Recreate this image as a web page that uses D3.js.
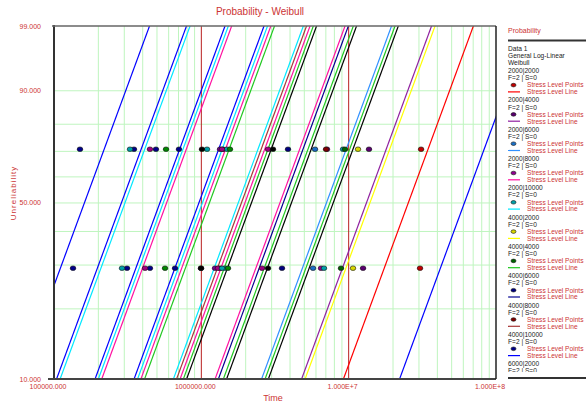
<!DOCTYPE html>
<html>
<head>
<meta charset="utf-8">
<script src="https://cdn.jsdelivr.net/npm/d3@7"></script>
<style>
body { margin: 0; background: #fff; }
svg { display: block; font-family: "Liberation Sans", Arial, sans-serif; }
</style>
</head>
<body>
<div id="chart"></div>
<script>
// stress level combos (S1|S2), two failures each
const stressLevels = ["2000|2000","2000|4000","2000|6000","2000|8000","2000|10000",
    "4000|2000","4000|4000","4000|6000","4000|8000","4000|10000",
    "6000|2000","6000|4000","6000|6000","6000|8000","6000|10000",
    "8000|2000","8000|4000","8000|6000","8000|8000","8000|10000",
    "10000|2000","10000|4000","10000|6000","10000|8000","10000|10000"]

// fitted eta of each stress level line (common beta)
const etaValues = [3.09e7, 1.607e7, 8.6e6, 4.157e6, 2.167e6,
    1.697e7, 9.08e6, 4.378e6, 2.278e6, 1.172e6,
    9.56e6, 4.733e6, 2.406e6, 1.238e6, 6.37e5,
    4.977e6, 2.533e6, 1.304e6, 6.71e5, 3.49e5,
    2.664e6, 1.381e6, 7.07e5, 3.69e5, 1.958e5]
const betaValue = 1.86
const extraEta = [7.43e7]

// failure times plotted at the two median ranks
const earlyTimes = [3.05e7, 1.252e7, 5.73e6, 6.49e6, 6.80e6,
    1.070e7, 8.87e6, 3.528e6, 1.339e6, 6.63e5,
    9.95e5, 1.238e6, 2.581e6, 1.447e6, 4.48e5,
    2.835e6, 1.517e6, 1.297e6, 1.381e6, 3.13e5,
    9.95e5, 5.67e5, 4.147e5, 2.894e5, 1.346e5]
const lateTimes = [3.10e7, 1.374e7, 5.91e6, 7.13e6, 9.16e6,
    1.157e7, 9.45e6, 3.875e6, 7.02e6, 7.05e5,
    1.403e6, 1.339e6, 2.835e6, 1.494e6, 4.92e5,
    3.065e6, 1.565e6, 1.381e6, 1.093e6, 3.49e5,
    1.010e6, 5.76e5, 4.48e5, 3.28e5, 1.501e5]
const rankValues = [29.17, 70.83]

const lineColors = ["#ff0000","#9020a0","#3090ff","#ff10a0","#00e8ff",
    "#ffff00","#20c820","#000090","#a83838","#0000ff",
    "#000000","#20c820","#ff10a0","#00e8ff","#0000ff",
    "#000000","#20c820","#ff10a0","#00e8ff","#0000ff",
    "#000000","#20c820","#ff10a0","#00e8ff","#0000ff"]
const pointColors = ["#c00000","#5a0070","#1a70c8","#900090","#00a0a8",
    "#d8d800","#006400","#000080","#800000","#00008b",
    "#000033","#700090","#a00080","#00a0a8","#00008b",
    "#000000","#008800","#a00080","#00a0a8","#00008b",
    "#000000","#008800","#a00080","#00a0a8","#00008b"]

const xTickValues = [1e5, 1e6, 1e7, 1e8]
const xTickLabels = ["100000.000", "1000000.000", "1.000E+7", "1.000E+8"]
const yTickValues = [10, 50, 90, 99]
const yTickLabels = ["10.000", "50.000", "90.000", "99.000"]
const yGridValues = [20, 30, 40, 50, 60, 70, 80, 90]

let plot = { left: 54, right: 496, top: 26, bottom: 379 }
let red = '#cc3333'

// weibull probability transform
let wb = (p) => Math.log(-Math.log(1 - p / 100))

let xScale = d3.scaleLog()
    .domain([1e5, 1e8])
    .range([plot.left, plot.right])
let yScale = d3.scaleLinear()
    .domain([wb(10), wb(99)])
    .range([plot.bottom, plot.top])

let svg = d3.select('#chart')
    .append('svg')
    .attr('width', 586)
    .attr('height', 404)

svg.append('clipPath')
    .attr('id', 'clip')
    .append('rect')
    .attr('x', plot.left)
    .attr('y', plot.top)
    .attr('width', plot.right - plot.left)
    .attr('height', plot.bottom - plot.top)

// grid
let minorX = xScale.ticks().filter(d => xTickValues.indexOf(d) < 0)
svg.append('g')
    .selectAll('line')
    .data(minorX)
    .enter()
    .append('line')
    .attr('x1', d => xScale(d)).attr('x2', d => xScale(d))
    .attr('y1', plot.top).attr('y2', plot.bottom)
    .attr('stroke', '#bff5bf')
    .attr('stroke-width', 1)

svg.append('g')
    .selectAll('line')
    .data(yGridValues)
    .enter()
    .append('line')
    .attr('x1', plot.left).attr('x2', plot.right)
    .attr('y1', d => yScale(wb(d))).attr('y2', d => yScale(wb(d)))
    .attr('stroke', '#bff5bf')
    .attr('stroke-width', 1)

svg.append('g')
    .selectAll('line')
    .data(xTickValues.slice(1, 3))
    .enter()
    .append('line')
    .attr('x1', d => xScale(d)).attr('x2', d => xScale(d))
    .attr('y1', plot.top).attr('y2', plot.bottom)
    .attr('stroke', '#b82020')
    .attr('stroke-width', 1)

// stress level lines
let lineData = etaValues.map((eta, i) => ({ eta: eta, color: lineColors[i] }))
    .concat(extraEta.map(eta => ({ eta: eta, color: '#0000ff' })))

let lineGen = d3.line()
    .x(d => xScale(d.t))
    .y(d => yScale(wb(d.p)))

svg.append('g')
    .attr('clip-path', 'url(#clip)')
    .selectAll('path')
    .data(lineData)
    .enter()
    .append('path')
    .attr('d', (d) => {
        let ends = [5, 99.9].map(p => ({ p: p, t: d.eta * Math.pow(-Math.log(1 - p / 100), 1 / betaValue) }))
        return lineGen(ends)
    })
    .attr('fill', 'none')
    .attr('stroke', d => d.color)
    .attr('stroke-width', 1.2)

// failure points
let pointData = []
stressLevels.forEach((s, i) => {
    pointData.push({ t: earlyTimes[i], p: rankValues[0], color: pointColors[i] })
    pointData.push({ t: lateTimes[i], p: rankValues[1], color: pointColors[i] })
})

svg.append('g')
    .selectAll('ellipse')
    .data(pointData)
    .enter()
    .append('ellipse')
    .attr('cx', d => xScale(d.t))
    .attr('cy', d => yScale(wb(d.p)))
    .attr('rx', 2.8)
    .attr('ry', 2.3)
    .attr('fill', d => d.color)
    .attr('stroke', '#111')
    .attr('stroke-width', 0.6)

// frame
svg.append('line').attr('x1', plot.left).attr('x2', plot.left).attr('y1', plot.top - 1).attr('y2', plot.bottom + 1)
    .attr('stroke', '#333').attr('stroke-width', 2)
svg.append('line').attr('x1', plot.left - 6).attr('x2', plot.right).attr('y1', plot.bottom).attr('y2', plot.bottom)
    .attr('stroke', '#444').attr('stroke-width', 2)
svg.append('line').attr('x1', plot.left - 2).attr('x2', plot.right).attr('y1', plot.top).attr('y2', plot.top)
    .attr('stroke', '#666').attr('stroke-width', 1.5)
svg.append('line').attr('x1', plot.right).attr('x2', plot.right).attr('y1', plot.top).attr('y2', plot.bottom)
    .attr('stroke', '#222').attr('stroke-width', 1.5)

// tick labels
svg.append('g')
    .selectAll('text')
    .data(xTickValues)
    .enter()
    .append('text')
    .attr('x', d => xScale(d) - 6)
    .attr('y', 389)
    .attr('text-anchor', 'middle')
    .attr('font-size', 7)
    .attr('fill', red)
    .text((d, i) => xTickLabels[i])

svg.append('g')
    .selectAll('text')
    .data(yTickValues)
    .enter()
    .append('text')
    .attr('x', 41)
    .attr('y', d => yScale(wb(d)) + 2.5)
    .attr('text-anchor', 'end')
    .attr('font-size', 7)
    .attr('fill', red)
    .text((d, i) => yTickLabels[i])

// titles
svg.append('text')
    .attr('x', 260).attr('y', 15)
    .attr('text-anchor', 'middle')
    .attr('font-size', 10)
    .attr('fill', red)
    .text('Probability - Weibull')

svg.append('text')
    .attr('x', 273).attr('y', 401)
    .attr('text-anchor', 'middle')
    .attr('font-size', 9)
    .attr('fill', red)
    .text('Time')

svg.append('text')
    .attr('transform', 'translate(16,193) rotate(-90)')
    .attr('text-anchor', 'middle')
    .attr('font-size', 8)
    .attr('letter-spacing', 1)
    .attr('fill', red)
    .text('Unreliability')

// legend
let legend = svg.append('g')
let lx = 508
legend.append('text').attr('x', lx).attr('y', 33).attr('font-size', 7).attr('fill', red).text('Probability')
legend.append('line').attr('x1', lx).attr('x2', 586).attr('y1', 40.5).attr('y2', 40.5)
    .attr('stroke', '#333').attr('stroke-width', 2)
legend.append('line').attr('x1', lx).attr('x2', 586).attr('y1', 378).attr('y2', 378)
    .attr('stroke', '#333').attr('stroke-width', 2)

let headLines = ['Data 1', 'General Log-Linear', 'Weibull']
headLines.forEach((t, i) => {
    legend.append('text').attr('x', lx).attr('y', 50.5 + i * 7.2)
        .attr('font-size', 6.6).attr('fill', '#222').text(t)
})

let legendBox = legend.append('g')
legendBox.append('clipPath').attr('id', 'legclip')
    .append('rect').attr('x', 500).attr('y', 66).attr('width', 86).attr('height', 306)

let entries = legendBox.append('g')
    .attr('clip-path', 'url(#legclip)')
    .selectAll('g')
    .data(stressLevels.slice(0, 11))
    .enter()
    .append('g')
    .attr('transform', (d, i) => `translate(0,${70.7 + i * 29.3})`)

entries.append('text').attr('x', lx).attr('y', 2.4).attr('font-size', 6.6).attr('fill', '#222').text(d => d)
entries.append('text').attr('x', lx).attr('y', 9.6).attr('font-size', 6.6).attr('fill', '#222').text('F=2 | S=0')
entries.append('ellipse').attr('cx', 513.5).attr('cy', 14.4).attr('rx', 2.5).attr('ry', 1.8)
    .attr('fill', (d, i) => pointColors[i]).attr('stroke', '#111').attr('stroke-width', 0.6)
entries.append('text').attr('x', 527).attr('y', 16.8).attr('font-size', 6.6).attr('fill', red).text('Stress Level Points')
entries.append('line').attr('x1', lx).attr('x2', 520).attr('y1', 21.2).attr('y2', 21.2)
    .attr('stroke', (d, i) => lineColors[i]).attr('stroke-width', 1.2)
entries.append('text').attr('x', 527).attr('y', 23.6).attr('font-size', 6.6).attr('fill', red).text('Stress Level Line')
</script>
</body>
</html>
